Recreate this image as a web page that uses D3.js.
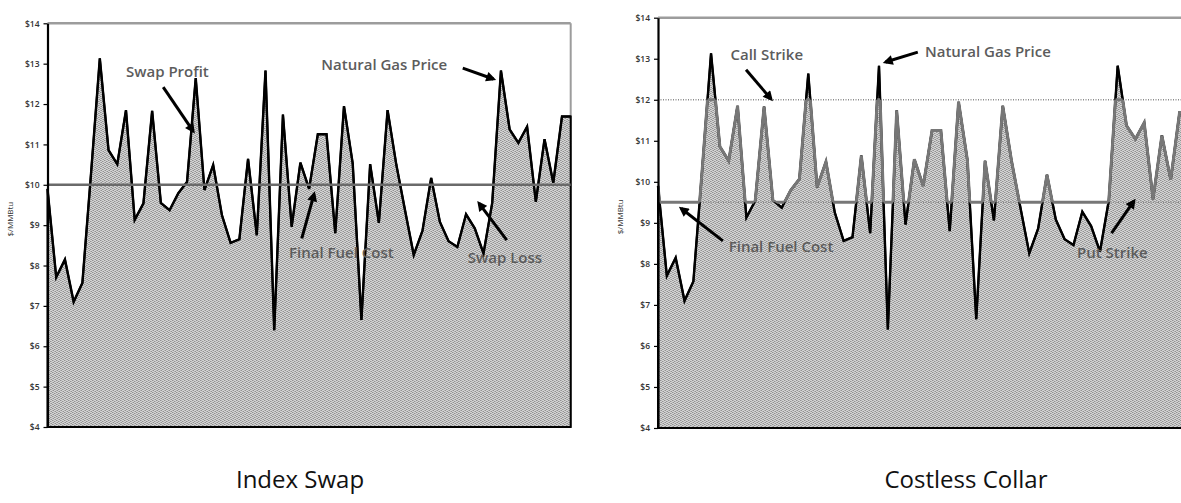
<!DOCTYPE html>
<html>
<head>
<meta charset="utf-8">
<script src="https://cdn.jsdelivr.net/npm/d3@7"></script>
<style>
  body { margin: 0; background: #fff; }
  svg { display: block; font-family: "Open Sans", sans-serif; }
</style>
</head>
<body>
<svg id="chart" width="1181" height="503"></svg>
<script>
// monthly natural gas price, $/MMBtu
var gasPrice = [9.90, 7.71, 8.15, 7.10, 7.57, 10.30, 13.13, 10.86, 10.51, 11.85,
                9.13, 9.54, 11.83, 9.55, 9.37, 9.79, 10.07, 12.64, 9.87, 10.49,
                9.25, 8.56, 8.65, 10.64, 8.75, 12.83, 6.40, 11.74, 8.96, 10.55,
                9.90, 11.25, 11.25, 8.80, 11.95, 10.53, 6.65, 10.51, 9.06, 11.85,
                10.50, 9.37, 8.26, 8.86, 10.17, 9.08, 8.60, 8.46, 9.27, 8.92,
                8.30, 9.55, 12.83, 11.37, 11.04, 11.44, 9.58, 11.13, 10.05, 11.69,
                11.69];
var months = d3.range(gasPrice.length);
var yTicks = [4, 5, 6, 7, 8, 9, 10, 11, 12, 13, 14];
var yDomain = [4, 14];
var swapPrice = 10;
var putStrike = 9.5;
var callStrike = 12;
var titles = ["Index Swap", "Costless Collar"];

// annotations, in data units (month index, $)
var swapNotes = [
  {text: "Swap Profit",       tx: 9.0,  ty: 12.67, from: [13.27, 12.42], to: [16.7, 11.33]},
  {text: "Natural Gas Price", tx: 31.4, ty: 12.84, from: [47.62, 12.89], to: [51.13, 12.62]},
  {text: "Final Fuel Cost",   tx: 27.7, ty: 8.19,  from: [29.16, 8.67],  to: [30.57, 9.77]},
  {text: "Swap Loss",         tx: 48.2, ty: 8.07,  from: [52.67, 8.63],  to: [49.49, 9.54]}
];
var collarNotes = [
  {text: "Call Strike",       tx: 8.2,  ty: 12.97, from: [9.96, 12.73],  to: [12.78, 12.02]},
  {text: "Natural Gas Price", tx: 30.2, ty: 13.04, from: [29.39, 13.16], to: [25.75, 12.92]},
  {text: "Final Fuel Cost",   tx: 8.0,  ty: 8.30,  from: [7.34, 8.56],   to: [2.63, 9.35]},
  {text: "Put Strike",        tx: 47.4, ty: 8.14,  from: [51.31, 8.75],  to: [53.83, 9.53]}
];

var svg = d3.select("#chart");
var defs = svg.append("defs");

// stippled grey fill like the printed figure
var pat = defs.append("pattern")
    .attr("id", "stipple")
    .attr("width", 4).attr("height", 4)
    .attr("patternUnits", "userSpaceOnUse");
pat.append("rect").attr("width", 4).attr("height", 4).attr("fill", "#d3d3d3");
[[0, 0], [2, 1], [1, 2], [3, 3]].forEach(function(p) {
  pat.append("rect").attr("x", p[0]).attr("y", p[1]).attr("width", 1).attr("height", 1).attr("fill", "#929292");
});
[[2, 3], [3, 1], [0, 2], [1, 0]].forEach(function(p) {
  pat.append("rect").attr("x", p[0]).attr("y", p[1]).attr("width", 1).attr("height", 1).attr("fill", "#b2b2b2");
});

defs.append("marker")
    .attr("id", "arrow")
    .attr("viewBox", "0 0 10 10")
    .attr("refX", 7).attr("refY", 5)
    .attr("markerUnits", "userSpaceOnUse")
    .attr("markerWidth", 11).attr("markerHeight", 10)
    .attr("orient", "auto")
  .append("path")
    .attr("d", "M0,0L10,5L0,10z")
    .attr("fill", "#000");

function drawChart(opts) {
  var x = d3.scaleLinear().domain([0, months.length - 1]).range([opts.left, opts.right]);
  var y = d3.scaleLinear().domain(yDomain).range([opts.bottom, opts.top]);
  var g = svg.append("g").attr("id", opts.id);

  var area = d3.area()
      .x(function(d, i) { return x(i); })
      .y0(y(yDomain[0]))
      .y1(function(d) { return y(d); });
  var line = d3.line()
      .x(function(d, i) { return x(i); })
      .y(function(d) { return y(d); });

  // frame: top border + (left chart only) right border
  g.append("line")
      .attr("x1", x(0)).attr("x2", x(months.length - 1))
      .attr("y1", y(14)).attr("y2", y(14))
      .attr("stroke", "#9c9c9c").attr("stroke-width", 2.5);
  if (opts.rightBorder) {
    g.append("line")
        .attr("x1", x(months.length - 1)).attr("x2", x(months.length - 1))
        .attr("y1", y(14)).attr("y2", y(4))
        .attr("stroke", "#9c9c9c").attr("stroke-width", 2);
  }

  g.append("path")
      .datum(gasPrice)
      .attr("d", area)
      .attr("fill", "url(#stipple)")
      .attr("stroke", "#000")
      .attr("stroke-width", 2);

  if (opts.collar) {
    [callStrike, putStrike].forEach(function(v) {
      g.append("line")
          .attr("x1", x(0)).attr("x2", x(months.length - 1))
          .attr("y1", y(v)).attr("y2", y(v))
          .attr("stroke", "#8a8a8a").attr("stroke-width", 1.5)
          .attr("stroke-dasharray", "1,1.5");
    });
  }

  // natural gas price
  g.append("path")
      .datum(gasPrice)
      .attr("d", line)
      .attr("fill", "none")
      .attr("stroke", "#000")
      .attr("stroke-width", 2.4)
      .attr("stroke-linejoin", "miter");

  // final fuel cost
  if (!opts.collar) {
    g.append("line")
        .attr("x1", x(0)).attr("x2", x(months.length - 1))
        .attr("y1", y(swapPrice)).attr("y2", y(swapPrice))
        .attr("stroke", "#6a6a6a").attr("stroke-width", 2.6);
  } else {
    // price clipped to the collar band, plus the floor / cap where price leaves it
    var band = defs.append("clipPath").attr("id", opts.id + "-band");
    band.append("rect")
        .attr("x", x(0)).attr("width", x(months.length - 1) - x(0))
        .attr("y", y(callStrike)).attr("height", y(putStrike) - y(callStrike));
    var above = defs.append("clipPath").attr("id", opts.id + "-above");
    above.append("path").datum(gasPrice)
        .attr("d", d3.area().x(function(d, i) { return x(i); }).y0(y(14)).y1(function(d) { return y(d); }));
    var below = defs.append("clipPath").attr("id", opts.id + "-below");
    below.append("path").datum(gasPrice)
        .attr("d", area);

    var grey = "#777", gw = 3;
    g.append("path")
        .datum(gasPrice)
        .attr("d", line)
        .attr("clip-path", "url(#" + opts.id + "-band)")
        .attr("fill", "none").attr("stroke", grey).attr("stroke-width", gw);
    g.append("line")
        .attr("clip-path", "url(#" + opts.id + "-above)")
        .attr("x1", x(0)).attr("x2", x(months.length - 1))
        .attr("y1", y(putStrike)).attr("y2", y(putStrike))
        .attr("stroke", grey).attr("stroke-width", gw);
    g.append("line")
        .attr("clip-path", "url(#" + opts.id + "-below)")
        .attr("x1", x(0)).attr("x2", x(months.length - 1))
        .attr("y1", y(callStrike)).attr("y2", y(callStrike))
        .attr("stroke", grey).attr("stroke-width", gw);
  }

  // bottom axis line
  g.append("line")
      .attr("x1", x(0)).attr("x2", x(months.length - 1))
      .attr("y1", y(4)).attr("y2", y(4))
      .attr("stroke", "#000").attr("stroke-width", 2.2);

  // y axis
  var ax = g.append("g")
      .attr("transform", "translate(" + x(0) + ",0)")
      .call(d3.axisLeft(y).tickValues(yTicks).tickFormat(function(d) { return "$" + d; })
            .tickSize(4).tickSizeOuter(0).tickPadding(4));
  ax.select(".domain").attr("stroke", "#000").attr("stroke-width", 2.2);
  ax.selectAll(".tick line").attr("stroke", "#000").attr("stroke-width", 1.2);
  ax.selectAll(".tick text")
      .attr("font-family", "Open Sans, sans-serif")
      .attr("font-size", 8.5)
      .attr("font-weight", 600)
      .attr("fill", "#333");

  g.append("text")
      .attr("transform", "translate(" + (x(0) - 35) + "," + ((y(14) + y(4)) / 2 - 6) + ") rotate(-90)")
      .attr("text-anchor", "middle")
      .attr("font-size", 8)
      .attr("fill", "#333")
      .text("$/MMBtu");

  // annotations
  opts.notes.forEach(function(n) {
    g.append("text")
        .attr("x", x(n.tx)).attr("y", y(n.ty))
        .attr("font-size", 15)
        .attr("font-weight", 600)
        .attr("fill", "#5c5c5c")
        .text(n.text);
    g.append("line")
        .attr("x1", x(n.from[0])).attr("y1", y(n.from[1]))
        .attr("x2", x(n.to[0])).attr("y2", y(n.to[1]))
        .attr("stroke", "#000").attr("stroke-width", 3)
        .attr("marker-end", "url(#arrow)");
  });

  svg.append("text")
      .attr("x", opts.titleX).attr("y", 488)
      .attr("text-anchor", "middle")
      .attr("font-size", 24)
      .attr("fill", "#111")
      .text(opts.title);
}

drawChart({id: "swap", left: 47.5, right: 570.7, top: 23.3, bottom: 427,
           rightBorder: true, collar: false, notes: swapNotes, title: titles[0], titleX: 300});
drawChart({id: "collar", left: 658, right: 1188.4, top: 17.7, bottom: 428,
           rightBorder: false, collar: true, notes: collarNotes, title: titles[1], titleX: 966});
</script>
</body>
</html>
